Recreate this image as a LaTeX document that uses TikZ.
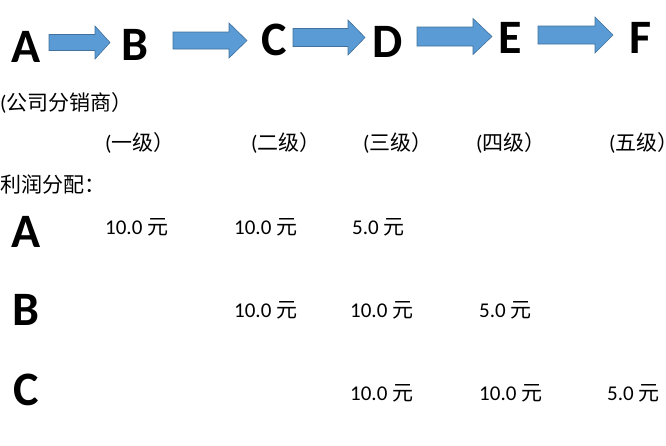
\documentclass[tikz,border=0pt]{standalone}
\usepackage{fontspec}
\setmainfont{Carlito}
\newfontfamily\cjk{Noto Sans CJK SC}
\usetikzlibrary{positioning}
\definecolor{arrowfill}{RGB}{91,155,213}
\definecolor{arrowline}{RGB}{65,113,156}
\newcommand{\yuan}{{\cjk 元}}

\begin{document}
\begin{tikzpicture}[x=1pt, y=-1pt,
  big/.style={font=\fontsize{48}{48}\selectfont\bfseries, inner sep=0pt,
    anchor=base},
  txt/.style={font=\fontsize{21}{24}\selectfont, inner sep=0pt,
    anchor=west},
  blk/.style={fill=arrowfill, draw=arrowline, line width=0.6pt},
]
\useasboundingbox (0,0) rectangle (666,445);
% chain of letters
\foreach \n/\x/\y in {A/26.5/62, B/135/60, C/274.5/55, D/387.5/57,
    E/510/53, F/641/53} {
  \node[big] (t\n) at (\x,\y) {\n};
}
% block arrows: start, head, tip, middle, shaft and head half widths
\foreach \xa/\xh/\xb/\y/\s/\h in {49/95/110/42.5/8/16.5,
    173/229/247/40.5/8.5/17.5, 293/348/365/37.5/9/17.5,
    417/473/492/36.5/9.5/18, 538/595/613/35/9/18} {
  \draw[blk] (\xa,\y-\s) -- (\xh,\y-\s) -- (\xh,\y-\h) -- (\xb,\y)
    -- (\xh,\y+\h) -- (\xh,\y+\s) -- (\xa,\y+\s) -- cycle;
}
% headings
\node[txt] (firm) at (0,102.5) {({\cjk 公司分销商）}};
\foreach \n/\x/\t in {l1/105/一级, l2/251/二级, l3/363/三级,
    l4/476/四级, l5/609/五级} {
  \node[txt] (\n) at (\x,143) {({\cjk \t）}};
}
\node[txt] (profit) at (0,185) {{\cjk 利润分配：}};
% rows
\foreach \n/\y in {A/247, B/325, C/405} {
  \node[big] (r\n) at (26,\y) {\n};
}
\foreach \n/\x/\y/\v in {a1/105/227/10.0, a2/234/227/10.0, a3/352/227/5.0,
    b2/234/310.5/10.0, b3/350/310.5/10.0, b4/479/310.5/5.0,
    c3/350/393/10.0, c4/479/393/10.0, c5/607/393/5.0} {
  \node[txt] (v\n) at (\x,\y) {\v\ \yuan};
}
\end{tikzpicture}
\end{document}
